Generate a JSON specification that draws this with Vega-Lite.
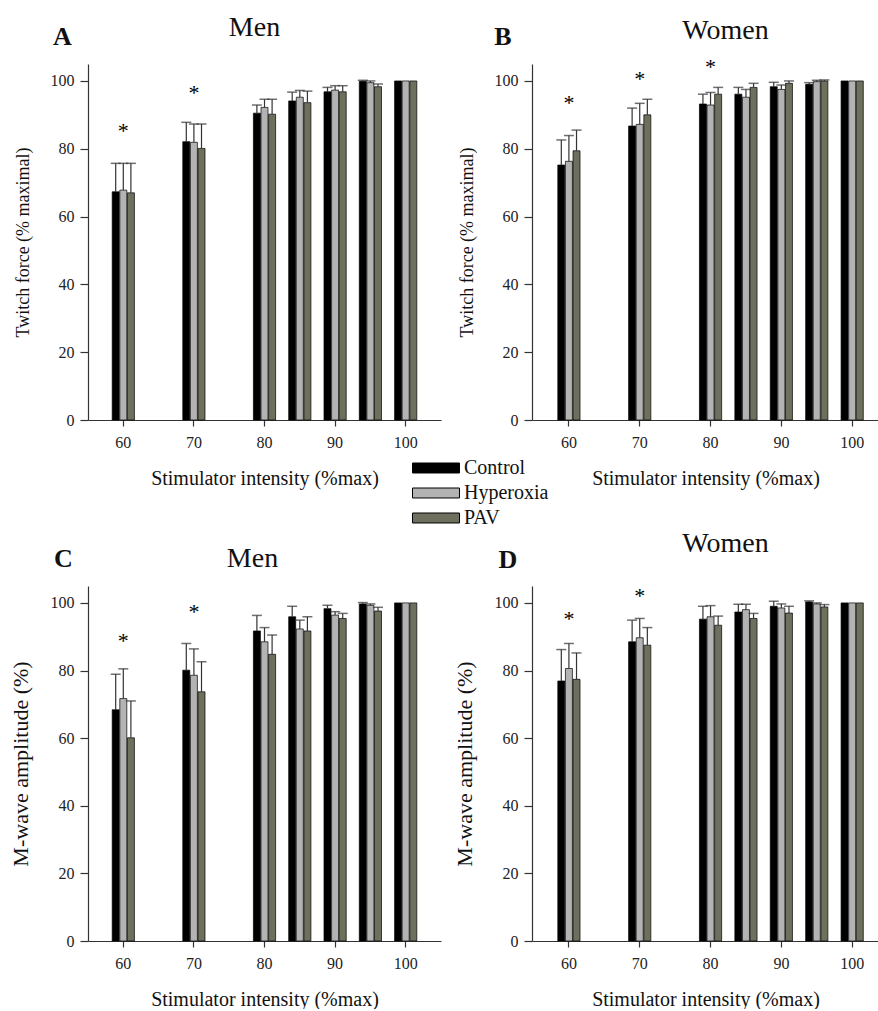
{
  "$schema": "https://vega.github.io/schema/vega-lite/v6.json",
  "background": "white",
  "padding": {"left": 9, "top": 14, "right": 0, "bottom": 0},
  "datasets": {
    "bars": [
      {"p":"A","x":60,"cond":"Control","v":67.3,"e":75.7},{"p":"A","x":60,"cond":"Hyperoxia","v":67.8,"e":75.7},{"p":"A","x":60,"cond":"PAV","v":67.0,"e":75.7},
      {"p":"A","x":70,"cond":"Control","v":82.1,"e":87.8},{"p":"A","x":70,"cond":"Hyperoxia","v":81.9,"e":87.3},{"p":"A","x":70,"cond":"PAV","v":80.1,"e":87.3},
      {"p":"A","x":80,"cond":"Control","v":90.5,"e":92.9},{"p":"A","x":80,"cond":"Hyperoxia","v":92.2,"e":94.6},{"p":"A","x":80,"cond":"PAV","v":90.2,"e":94.6},
      {"p":"A","x":85,"cond":"Control","v":94.1,"e":96.7},{"p":"A","x":85,"cond":"Hyperoxia","v":95.2,"e":97.2},{"p":"A","x":85,"cond":"PAV","v":93.6,"e":97.0},
      {"p":"A","x":90,"cond":"Control","v":96.8,"e":98.1},{"p":"A","x":90,"cond":"Hyperoxia","v":97.3,"e":98.6},{"p":"A","x":90,"cond":"PAV","v":96.8,"e":98.6},
      {"p":"A","x":95,"cond":"Control","v":99.9,"e":100.2},{"p":"A","x":95,"cond":"Hyperoxia","v":99.5,"e":100.0},{"p":"A","x":95,"cond":"PAV","v":98.3,"e":99.1},
      {"p":"A","x":100,"cond":"Control","v":100,"e":null},{"p":"A","x":100,"cond":"Hyperoxia","v":100,"e":null},{"p":"A","x":100,"cond":"PAV","v":100,"e":null},
      {"p":"B","x":60,"cond":"Control","v":75.2,"e":82.6},{"p":"B","x":60,"cond":"Hyperoxia","v":76.3,"e":83.9},{"p":"B","x":60,"cond":"PAV","v":79.4,"e":85.5},
      {"p":"B","x":70,"cond":"Control","v":86.7,"e":92.0},{"p":"B","x":70,"cond":"Hyperoxia","v":87.2,"e":93.4},{"p":"B","x":70,"cond":"PAV","v":90.0,"e":94.6},
      {"p":"B","x":80,"cond":"Control","v":93.2,"e":96.1},{"p":"B","x":80,"cond":"Hyperoxia","v":92.9,"e":96.6},{"p":"B","x":80,"cond":"PAV","v":96.1,"e":98.1},
      {"p":"B","x":85,"cond":"Control","v":96.1,"e":98.1},{"p":"B","x":85,"cond":"Hyperoxia","v":95.2,"e":97.5},{"p":"B","x":85,"cond":"PAV","v":98.1,"e":99.3},
      {"p":"B","x":90,"cond":"Control","v":98.3,"e":99.6},{"p":"B","x":90,"cond":"Hyperoxia","v":97.5,"e":98.8},{"p":"B","x":90,"cond":"PAV","v":99.3,"e":100.0},
      {"p":"B","x":95,"cond":"Control","v":99.0,"e":99.5},{"p":"B","x":95,"cond":"Hyperoxia","v":99.8,"e":100.2},{"p":"B","x":95,"cond":"PAV","v":100.0,"e":100.3},
      {"p":"B","x":100,"cond":"Control","v":100,"e":null},{"p":"B","x":100,"cond":"Hyperoxia","v":100,"e":null},{"p":"B","x":100,"cond":"PAV","v":100,"e":null},
      {"p":"C","x":60,"cond":"Control","v":68.4,"e":78.9},{"p":"C","x":60,"cond":"Hyperoxia","v":71.7,"e":80.5},{"p":"C","x":60,"cond":"PAV","v":60.1,"e":71.0},
      {"p":"C","x":70,"cond":"Control","v":80.1,"e":88.0},{"p":"C","x":70,"cond":"Hyperoxia","v":78.6,"e":86.4},{"p":"C","x":70,"cond":"PAV","v":73.7,"e":82.6},
      {"p":"C","x":80,"cond":"Control","v":91.7,"e":96.3},{"p":"C","x":80,"cond":"Hyperoxia","v":88.5,"e":92.7},{"p":"C","x":80,"cond":"PAV","v":84.8,"e":90.5},
      {"p":"C","x":85,"cond":"Control","v":95.9,"e":99.0},{"p":"C","x":85,"cond":"Hyperoxia","v":92.3,"e":94.9},{"p":"C","x":85,"cond":"PAV","v":91.7,"e":95.9},
      {"p":"C","x":90,"cond":"Control","v":98.3,"e":99.3},{"p":"C","x":90,"cond":"Hyperoxia","v":96.4,"e":97.4},{"p":"C","x":90,"cond":"PAV","v":95.4,"e":96.9},
      {"p":"C","x":95,"cond":"Control","v":99.7,"e":100.1},{"p":"C","x":95,"cond":"Hyperoxia","v":99.3,"e":99.7},{"p":"C","x":95,"cond":"PAV","v":97.6,"e":98.7},
      {"p":"C","x":100,"cond":"Control","v":100,"e":null},{"p":"C","x":100,"cond":"Hyperoxia","v":100,"e":null},{"p":"C","x":100,"cond":"PAV","v":100,"e":null},
      {"p":"D","x":60,"cond":"Control","v":76.9,"e":86.2},{"p":"D","x":60,"cond":"Hyperoxia","v":80.6,"e":88.0},{"p":"D","x":60,"cond":"PAV","v":77.4,"e":85.2},
      {"p":"D","x":70,"cond":"Control","v":88.5,"e":94.9},{"p":"D","x":70,"cond":"Hyperoxia","v":89.7,"e":95.4},{"p":"D","x":70,"cond":"PAV","v":87.5,"e":92.7},
      {"p":"D","x":80,"cond":"Control","v":95.2,"e":99.0},{"p":"D","x":80,"cond":"Hyperoxia","v":95.9,"e":99.2},{"p":"D","x":80,"cond":"PAV","v":93.4,"e":96.1},
      {"p":"D","x":85,"cond":"Control","v":97.3,"e":99.6},{"p":"D","x":85,"cond":"Hyperoxia","v":98.0,"e":99.6},{"p":"D","x":85,"cond":"PAV","v":95.4,"e":96.9},
      {"p":"D","x":90,"cond":"Control","v":99.0,"e":100.5},{"p":"D","x":90,"cond":"Hyperoxia","v":98.5,"e":99.7},{"p":"D","x":90,"cond":"PAV","v":97.0,"e":99.0},
      {"p":"D","x":95,"cond":"Control","v":100.3,"e":100.6},{"p":"D","x":95,"cond":"Hyperoxia","v":99.7,"e":100.0},{"p":"D","x":95,"cond":"PAV","v":98.8,"e":99.5},
      {"p":"D","x":100,"cond":"Control","v":100,"e":null},{"p":"D","x":100,"cond":"Hyperoxia","v":100,"e":null},{"p":"D","x":100,"cond":"PAV","v":100,"e":null}
    ],
    "stars": [
      {"p":"A","x":60,"y":86.2},{"p":"A","x":70,"y":97.3},
      {"p":"B","x":60,"y":94.4},{"p":"B","x":70,"y":101.5},{"p":"B","x":80,"y":105},
      {"p":"C","x":60,"y":89.7},{"p":"C","x":70,"y":98.3},
      {"p":"D","x":60,"y":96.1},{"p":"D","x":70,"y":103}
    ],
    "letters": [{"p":"A","label":"A"},{"p":"B","label":"B"},{"p":"C","label":"C"},{"p":"D","label":"D"}]
  },
  "columns": 2,
  "bounds": "flush",
  "spacing": {"row": 166, "column": 91},
  "concat": [
    {
      "width": 353, "height": 356,
      "title": {"text": "Men", "offset": -18.5, "dx": -10},
      "encoding": {"x": {"field": "x", "type": "ordinal", "title": "Stimulator intensity (%max)", "scale": {"domain": [60,65,70,75,80,85,90,95,100], "paddingInner": 0, "paddingOuter": 0.5}, "axis": {"values": [60, 70, 80, 90, 100]}}},
      "layer": [
        {"data": {"name": "bars"}, "transform": [{"filter": "datum.p==='A'"}],
         "mark": {"type": "bar", "stroke": "#000", "strokeWidth": 0.7},
         "encoding": {
           "xOffset": {"field": "cond", "type": "nominal", "scale": {"domain": ["Control", "Hyperoxia", "PAV"], "paddingInner": 0.08, "paddingOuter": 0.86}},
           "y": {"field": "v", "type": "quantitative", "stack": null, "title": "Twitch force (% maximal)", "scale": {"domain": [0, 105], "nice": false}, "axis": {"values": [0, 20, 40, 60, 80, 100]}},
           "color": {"field": "cond", "type": "nominal", "scale": {"domain": ["Control", "Hyperoxia", "PAV"], "range": ["#000000", "#b3b3b3", "#6f6f5e"]}, "legend": {"orient": "none", "legendX": 338, "legendY": 394, "title": null}}}},
        {"data": {"name": "bars"}, "transform": [{"filter": "datum.p==='A' && datum.e != null"}],
         "mark": {"type": "rule", "color": "#333", "strokeWidth": 1.2},
         "encoding": {
           "xOffset": {"field": "cond", "type": "nominal", "scale": {"domain": ["Control", "Hyperoxia", "PAV"], "paddingInner": 0.08, "paddingOuter": 0.86}},
           "y": {"field": "v", "type": "quantitative", "title": "Twitch force (% maximal)"}, "y2": {"field": "e"}}},
        {"data": {"name": "bars"}, "transform": [{"filter": "datum.p==='A' && datum.e != null"}],
         "mark": {"type": "tick", "orient": "horizontal", "size": 10, "thickness": 1.5, "color": "#333"},
         "encoding": {
           "xOffset": {"field": "cond", "type": "nominal", "scale": {"domain": ["Control", "Hyperoxia", "PAV"], "paddingInner": 0.08, "paddingOuter": 0.86}},
           "y": {"field": "e", "type": "quantitative", "title": "Twitch force (% maximal)"}}},
        {"data": {"name": "stars"}, "transform": [{"filter": "datum.p==='A'"}],
         "mark": {"type": "text", "text": "*", "fontSize": 22, "dy": 3, "color": "#000"},
         "encoding": {"y": {"field": "y", "type": "quantitative", "title": "Twitch force (% maximal)"}}},
        {"data": {"name": "letters"}, "transform": [{"filter": "datum.p==='A'"}],
         "mark": {"type": "text", "fontSize": 26, "fontWeight": "bold", "color": "#111", "dx": -61},
         "encoding": {"text": {"field": "label"}, "x": {"datum": 60, "type": "ordinal"}, "y": {"datum": 113.1, "type": "quantitative"}}}
      ]
    },
    {
      "width": 347, "height": 356,
      "title": {"text": "Women", "offset": -21, "dx": 20},
      "encoding": {"x": {"field": "x", "type": "ordinal", "title": "Stimulator intensity (%max)", "scale": {"domain": [60,65,70,75,80,85,90,95,100], "paddingInner": 0, "paddingOuter": 0.4, "align": 0.68}, "axis": {"values": [60, 70, 80, 90, 100]}}},
      "layer": [
        {"data": {"name": "bars"}, "transform": [{"filter": "datum.p==='B'"}],
         "mark": {"type": "bar", "stroke": "#000", "strokeWidth": 0.7},
         "encoding": {
           "xOffset": {"field": "cond", "type": "nominal", "scale": {"domain": ["Control", "Hyperoxia", "PAV"], "paddingInner": 0.08, "paddingOuter": 0.86}},
           "y": {"field": "v", "type": "quantitative", "stack": null, "title": "Twitch force (% maximal)", "scale": {"domain": [0, 105], "nice": false}, "axis": {"values": [0, 20, 40, 60, 80, 100]}},
           "color": {"field": "cond", "type": "nominal", "scale": {"domain": ["Control", "Hyperoxia", "PAV"], "range": ["#000000", "#b3b3b3", "#6f6f5e"]}, "legend": {"orient": "none", "legendX": 338, "legendY": 394, "title": null}}}},
        {"data": {"name": "bars"}, "transform": [{"filter": "datum.p==='B' && datum.e != null"}],
         "mark": {"type": "rule", "color": "#333", "strokeWidth": 1.2},
         "encoding": {
           "xOffset": {"field": "cond", "type": "nominal", "scale": {"domain": ["Control", "Hyperoxia", "PAV"], "paddingInner": 0.08, "paddingOuter": 0.86}},
           "y": {"field": "v", "type": "quantitative", "title": "Twitch force (% maximal)"}, "y2": {"field": "e"}}},
        {"data": {"name": "bars"}, "transform": [{"filter": "datum.p==='B' && datum.e != null"}],
         "mark": {"type": "tick", "orient": "horizontal", "size": 10, "thickness": 1.5, "color": "#333"},
         "encoding": {
           "xOffset": {"field": "cond", "type": "nominal", "scale": {"domain": ["Control", "Hyperoxia", "PAV"], "paddingInner": 0.08, "paddingOuter": 0.86}},
           "y": {"field": "e", "type": "quantitative", "title": "Twitch force (% maximal)"}}},
        {"data": {"name": "stars"}, "transform": [{"filter": "datum.p==='B'"}],
         "mark": {"type": "text", "text": "*", "fontSize": 22, "dy": 3, "color": "#000"},
         "encoding": {"y": {"field": "y", "type": "quantitative", "title": "Twitch force (% maximal)"}}},
        {"data": {"name": "letters"}, "transform": [{"filter": "datum.p==='B'"}],
         "mark": {"type": "text", "fontSize": 26, "fontWeight": "bold", "color": "#111", "dx": -66},
         "encoding": {"text": {"field": "label"}, "x": {"datum": 60, "type": "ordinal"}, "y": {"datum": 113.1, "type": "quantitative"}}}
      ]
    },
    {
      "width": 353, "height": 355,
      "title": {"text": "Men", "offset": -27, "dx": -12},
      "encoding": {"x": {"field": "x", "type": "ordinal", "title": "Stimulator intensity (%max)", "scale": {"domain": [60,65,70,75,80,85,90,95,100], "paddingInner": 0, "paddingOuter": 0.5}, "axis": {"values": [60, 70, 80, 90, 100]}}},
      "layer": [
        {"data": {"name": "bars"}, "transform": [{"filter": "datum.p==='C'"}],
         "mark": {"type": "bar", "stroke": "#000", "strokeWidth": 0.7},
         "encoding": {
           "xOffset": {"field": "cond", "type": "nominal", "scale": {"domain": ["Control", "Hyperoxia", "PAV"], "paddingInner": 0.08, "paddingOuter": 0.86}},
           "y": {"field": "v", "type": "quantitative", "stack": null, "title": "M-wave amplitude (%)", "scale": {"domain": [0, 105], "nice": false}, "axis": {"values": [0, 20, 40, 60, 80, 100], "titleFontSize": 22}},
           "color": {"field": "cond", "type": "nominal", "scale": {"domain": ["Control", "Hyperoxia", "PAV"], "range": ["#000000", "#b3b3b3", "#6f6f5e"]}, "legend": {"orient": "none", "legendX": 338, "legendY": 394, "title": null}}}},
        {"data": {"name": "bars"}, "transform": [{"filter": "datum.p==='C' && datum.e != null"}],
         "mark": {"type": "rule", "color": "#333", "strokeWidth": 1.2},
         "encoding": {
           "xOffset": {"field": "cond", "type": "nominal", "scale": {"domain": ["Control", "Hyperoxia", "PAV"], "paddingInner": 0.08, "paddingOuter": 0.86}},
           "y": {"field": "v", "type": "quantitative", "title": "M-wave amplitude (%)"}, "y2": {"field": "e"}}},
        {"data": {"name": "bars"}, "transform": [{"filter": "datum.p==='C' && datum.e != null"}],
         "mark": {"type": "tick", "orient": "horizontal", "size": 10, "thickness": 1.5, "color": "#333"},
         "encoding": {
           "xOffset": {"field": "cond", "type": "nominal", "scale": {"domain": ["Control", "Hyperoxia", "PAV"], "paddingInner": 0.08, "paddingOuter": 0.86}},
           "y": {"field": "e", "type": "quantitative", "title": "M-wave amplitude (%)"}}},
        {"data": {"name": "stars"}, "transform": [{"filter": "datum.p==='C'"}],
         "mark": {"type": "text", "text": "*", "fontSize": 22, "dy": 3, "color": "#000"},
         "encoding": {"y": {"field": "y", "type": "quantitative", "title": "M-wave amplitude (%)"}}},
        {"data": {"name": "letters"}, "transform": [{"filter": "datum.p==='C'"}],
         "mark": {"type": "text", "fontSize": 26, "fontWeight": "bold", "color": "#111", "dx": -60},
         "encoding": {"text": {"field": "label"}, "x": {"datum": 60, "type": "ordinal"}, "y": {"datum": 112.9, "type": "quantitative"}}}
      ]
    },
    {
      "width": 347, "height": 355,
      "title": {"text": "Women", "offset": -11, "dx": 20},
      "encoding": {"x": {"field": "x", "type": "ordinal", "title": "Stimulator intensity (%max)", "scale": {"domain": [60,65,70,75,80,85,90,95,100], "paddingInner": 0, "paddingOuter": 0.4, "align": 0.68}, "axis": {"values": [60, 70, 80, 90, 100]}}},
      "layer": [
        {"data": {"name": "bars"}, "transform": [{"filter": "datum.p==='D'"}],
         "mark": {"type": "bar", "stroke": "#000", "strokeWidth": 0.7},
         "encoding": {
           "xOffset": {"field": "cond", "type": "nominal", "scale": {"domain": ["Control", "Hyperoxia", "PAV"], "paddingInner": 0.08, "paddingOuter": 0.86}},
           "y": {"field": "v", "type": "quantitative", "stack": null, "title": "M-wave amplitude (%)", "scale": {"domain": [0, 105], "nice": false}, "axis": {"values": [0, 20, 40, 60, 80, 100], "titleFontSize": 22}},
           "color": {"field": "cond", "type": "nominal", "scale": {"domain": ["Control", "Hyperoxia", "PAV"], "range": ["#000000", "#b3b3b3", "#6f6f5e"]}, "legend": {"orient": "none", "legendX": 338, "legendY": 394, "title": null}}}},
        {"data": {"name": "bars"}, "transform": [{"filter": "datum.p==='D' && datum.e != null"}],
         "mark": {"type": "rule", "color": "#333", "strokeWidth": 1.2},
         "encoding": {
           "xOffset": {"field": "cond", "type": "nominal", "scale": {"domain": ["Control", "Hyperoxia", "PAV"], "paddingInner": 0.08, "paddingOuter": 0.86}},
           "y": {"field": "v", "type": "quantitative", "title": "M-wave amplitude (%)"}, "y2": {"field": "e"}}},
        {"data": {"name": "bars"}, "transform": [{"filter": "datum.p==='D' && datum.e != null"}],
         "mark": {"type": "tick", "orient": "horizontal", "size": 10, "thickness": 1.5, "color": "#333"},
         "encoding": {
           "xOffset": {"field": "cond", "type": "nominal", "scale": {"domain": ["Control", "Hyperoxia", "PAV"], "paddingInner": 0.08, "paddingOuter": 0.86}},
           "y": {"field": "e", "type": "quantitative", "title": "M-wave amplitude (%)"}}},
        {"data": {"name": "stars"}, "transform": [{"filter": "datum.p==='D'"}],
         "mark": {"type": "text", "text": "*", "fontSize": 22, "dy": 3, "color": "#000"},
         "encoding": {"y": {"field": "y", "type": "quantitative", "title": "M-wave amplitude (%)"}}},
        {"data": {"name": "letters"}, "transform": [{"filter": "datum.p==='D'"}],
         "mark": {"type": "text", "fontSize": 26, "fontWeight": "bold", "color": "#111", "dx": -61},
         "encoding": {"text": {"field": "label"}, "x": {"datum": 60, "type": "ordinal"}, "y": {"datum": 112.6, "type": "quantitative"}}}
      ]
    }
  ],
  "resolve": {"scale": {"color": "shared"}, "legend": {"color": "shared"}},
  "config": {
    "view": {"stroke": null},
    "font": "Liberation Serif",
    "axis": {"grid": false, "domainColor": "#333", "tickColor": "#333", "labelColor": "#222", "titleColor": "#111", "labelFont": "Liberation Serif", "titleFont": "Liberation Serif", "labelFontSize": 16, "titleFontWeight": "normal", "domainWidth": 1.2, "tickWidth": 1.2},
    "axisX": {"tickSize": 6, "labelPadding": 8, "titlePadding": 18, "titleFontSize": 20, "labelAngle": 0},
    "axisY": {"tickSize": 8, "labelPadding": 6, "titlePadding": 18, "titleFontSize": 18},
    "title": {"font": "Liberation Serif", "fontSize": 28, "fontWeight": "normal", "color": "#111", "baseline": "alphabetic"},
    "legend": {"labelFont": "Liberation Serif", "labelFontSize": 20, "labelColor": "#111", "symbolType": "M-4,-0.85H4V0.85H-4Z", "symbolSize": 138, "symbolStrokeColor": "#000", "symbolStrokeWidth": 1, "symbolOpacity": 1, "rowPadding": 5, "labelOffset": 18, "padding": 0},
    "text": {"font": "Liberation Serif"}
  }
}
